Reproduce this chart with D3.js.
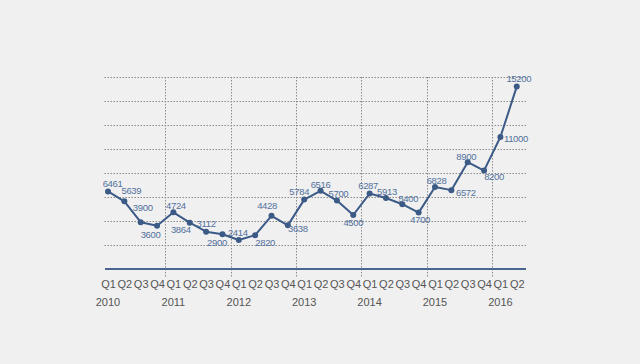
<!DOCTYPE html>
<html><head><meta charset="utf-8">
<script src="https://cdn.jsdelivr.net/npm/d3@7"></script>
<style>
html,body{margin:0;padding:0;background:#f0f0f0;}
svg{display:block;}
text{font-family:"Liberation Sans",Arial,Helvetica,sans-serif;}
</style></head>
<body>
<svg id="c" width="640" height="364"></svg>
<script>
// ---- data ----
const quarters = ["Q1","Q2","Q3","Q4","Q1","Q2","Q3","Q4","Q1","Q2","Q3","Q4","Q1","Q2","Q3","Q4","Q1","Q2","Q3","Q4","Q1","Q2","Q3","Q4","Q1","Q2"];
const years = ["2010","2011","2012","2013","2014","2015","2016"];
const values = [6461,5639,3900,3600,4724,3864,3112,2900,2414,2820,4428,3638,5784,6516,5700,4500,6287,5913,5400,4700,6828,6572,8900,8200,11000,15200];
const yTicks = [2000,4000,6000,8000,10000,12000,14000,16000];
// label placement offsets (dx, dy) relative to each point
const labelDx = [4.5,7,2,-6.5,2.5,-9,0,-5.5,-1,10,-4.5,10,-5,0,1.5,0,-1.5,1,6,1.5,1.5,14.5,-1.5,10,15.5,2];
const labelDy = [-4.5,-7,-11.5,12,-3,10.5,-4.7,11.5,-4,11,-6.5,7,-4.5,-3,-4,11,-4.5,-3,-2,10.5,-3,6,-2.5,9,5,-5];

const svg = d3.select("#c");
const idx = d3.range(values.length);
const x = d3.scaleLinear().domain([0, values.length-1]).range([108, 516.75]);
const y = d3.scaleLinear().domain([0,16000]).range([269,77]);
const left = 104.5, right = 527;

const lineColor = "#3b5a86";
const labelColor = "#52709c";

// horizontal grid
svg.append("g").selectAll("line").data(yTicks).join("line")
  .attr("x1", left).attr("x2", right)
  .attr("y1", d=>Math.round(y(d))+0.5).attr("y2", d=>Math.round(y(d))+0.5)
  .attr("stroke","#8c8c8c").attr("stroke-width",1).attr("stroke-dasharray","1.5,1.5");

// vertical grid at year boundaries
const bounds = d3.range(1, years.length).map(i => i*4 - 0.5);
svg.append("g").selectAll("line").data(bounds).join("line")
  .attr("x1", d=>Math.round(x(d))+0.5).attr("x2", d=>Math.round(x(d))+0.5)
  .attr("y1", 77).attr("y2", 277)
  .attr("stroke","#8c8c8c").attr("stroke-width",1).attr("stroke-dasharray","1.5,1.5");

// baseline
svg.append("line").attr("x1", left+0.5).attr("x2", right-1)
  .attr("y1", y(0)).attr("y2", y(0))
  .attr("stroke", "#4a6690").attr("stroke-width", 2);

// x axis labels
const xAxis = d3.axisBottom(x).tickValues(idx).tickFormat(i => quarters[i]).tickSize(0).tickPadding(0);
const gx = svg.append("g").attr("transform","translate(0,280)").call(xAxis);
gx.select(".domain").remove();
gx.selectAll("text").attr("font-size",11).attr("fill","#555").attr("dy","0.71em")
  .style("font-family","'Liberation Sans',Arial,sans-serif");

svg.append("g").selectAll("text").data(years).join("text")
  .attr("x", (d,i)=>x(i*4)).attr("y", 306)
  .attr("text-anchor","middle").attr("font-size",11).attr("fill","#555").text(d=>d);

// line
const line = d3.line().x((d,i)=>x(i)).y(d=>y(d));
svg.append("path").datum(values).attr("d", line)
  .attr("fill","none").attr("stroke", lineColor).attr("stroke-width",2).attr("stroke-linejoin","round");

svg.append("g").selectAll("circle").data(values).join("circle")
  .attr("cx",(d,i)=>x(i)).attr("cy", d=>y(d)).attr("r",3).attr("fill", lineColor);

svg.append("g").selectAll("text").data(values).join("text")
  .attr("x",(d,i)=>x(i)+labelDx[i]).attr("y",(d,i)=>y(d)+labelDy[i])
  .attr("text-anchor","middle").attr("font-size",9.5).attr("letter-spacing","-0.35")
  .attr("fill", labelColor).text(d=>d);
</script>
</body></html>
